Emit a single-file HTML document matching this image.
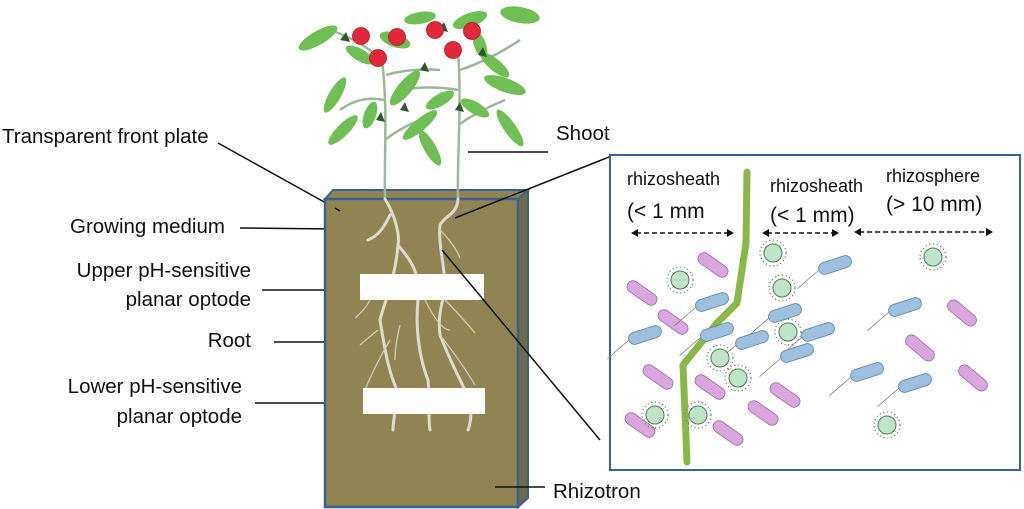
<!DOCTYPE html>
<html><head><meta charset="utf-8"><style>html,body{margin:0;padding:0;background:#fff}svg{display:block}</style></head><body>
<svg width="1024" height="509" viewBox="0 0 1024 509" xmlns="http://www.w3.org/2000/svg" font-family="Liberation Sans, sans-serif">
<defs>
<g id="pk"><rect x="-17" y="-6" width="34" height="12" rx="6" fill="#d9a6de" stroke="#9a6aa6" stroke-width="0.8"/></g>
<g id="bl"><path d="M-17 0 q-10 4 -26 11" fill="none" stroke="#777" stroke-width="0.8"/><rect x="-17" y="-6" width="34" height="12" rx="6" fill="#9cc0de" stroke="#5f86a8" stroke-width="0.8"/></g>
<g id="gc"><circle r="13" fill="none" stroke="#777" stroke-width="1.2" stroke-dasharray="1.2 2.6"/><circle r="9" fill="#bfe4c8" stroke="#4f7a58" stroke-width="1"/></g>
</defs>
<g font-size="20.5" fill="#111">
<text x="2" y="143">Transparent front plate</text>
<text x="70" y="233">Growing medium</text>
<text x="251" y="277" text-anchor="end">Upper pH-sensitive</text>
<text x="251" y="306" text-anchor="end">planar optode</text>
<text x="251" y="347" text-anchor="end">Root</text>
<text x="242" y="393" text-anchor="end">Lower pH-sensitive</text>
<text x="242" y="423" text-anchor="end">planar optode</text>
<text x="556" y="140">Shoot</text>
<text x="553" y="498">Rhizotron</text>
</g>
<g stroke="#111" stroke-width="1.5" fill="none">
<line x1="218" y1="143" x2="335" y2="208"/>
<line x1="240" y1="228" x2="333" y2="229"/>
<line x1="262" y1="290" x2="358" y2="290"/>
<line x1="274" y1="342" x2="370" y2="342"/>
<line x1="255" y1="403" x2="360" y2="403"/>
<line x1="468" y1="152" x2="548" y2="152"/>
</g>
<polygon points="325,199 333,190 528,190 518,199" fill="#8f8452" stroke="#3a6090" stroke-width="2"/>
<polygon points="518,199 528,190 528,498 518,507" fill="#6e6a45" stroke="#3a6090" stroke-width="2"/>
<rect x="325" y="199" width="193" height="308" fill="#8f8452" stroke="#3a6090" stroke-width="2.5"/>
<line x1="495" y1="487" x2="545" y2="487" stroke="#111" stroke-width="1.5"/>
<line x1="335" y1="208" x2="340" y2="211" stroke="#111" stroke-width="1.5"/>
<g fill="none" stroke="#9cb89a" stroke-width="2.5">
<path d="M385 199 C384 150 388 110 382 60"/>
<path d="M458 199 C457 150 462 110 458 50"/>
<path d="M385 140 Q400 128 420 120 M458 125 Q480 110 505 100 M384 100 Q360 95 340 110 M458 90 Q430 85 400 90 M386 75 Q410 68 440 70 M460 70 Q490 60 520 40 M382 60 Q360 40 330 30"/>
</g>
<g fill="#6fbf55">
<ellipse cx="318" cy="38" rx="22" ry="7" transform="rotate(-30 318 38)"/>
<ellipse cx="343" cy="130" rx="20" ry="6" transform="rotate(-45 343 130)"/>
<ellipse cx="335" cy="95" rx="20" ry="6" transform="rotate(-60 335 95)"/>
<ellipse cx="405" cy="88" rx="22" ry="7" transform="rotate(-50 405 88)"/>
<ellipse cx="420" cy="125" rx="22" ry="6" transform="rotate(-40 420 125)"/>
<ellipse cx="430" cy="148" rx="20" ry="6" transform="rotate(60 430 148)"/>
<ellipse cx="510" cy="128" rx="22" ry="6" transform="rotate(55 510 128)"/>
<ellipse cx="505" cy="85" rx="22" ry="7" transform="rotate(20 505 85)"/>
<ellipse cx="520" cy="15" rx="20" ry="8" transform="rotate(10 520 15)"/>
<ellipse cx="495" cy="65" rx="18" ry="6" transform="rotate(40 495 65)"/>
<ellipse cx="470" cy="20" rx="18" ry="7" transform="rotate(-20 470 20)"/>
<ellipse cx="420" cy="18" rx="16" ry="6" transform="rotate(-10 420 18)"/>
<ellipse cx="360" cy="55" rx="16" ry="6" transform="rotate(30 360 55)"/>
<ellipse cx="440" cy="100" rx="16" ry="6" transform="rotate(-30 440 100)"/>
<ellipse cx="475" cy="108" rx="16" ry="6" transform="rotate(30 475 108)"/>
<ellipse cx="370" cy="115" rx="14" ry="6" transform="rotate(-70 370 115)"/>
<ellipse cx="395" cy="40" rx="16" ry="7" transform="rotate(20 395 40)"/>
<ellipse cx="480" cy="45" rx="14" ry="6" transform="rotate(70 480 45)"/>
</g>
<g fill="#2e5a2a">
<path d="M340 40 l6 -8 l4 10z M438 30 l6 -8 l4 10z M400 110 l5 -8 l4 10z M376 120 l5 -8 l4 10z M455 110 l5 -8 l4 10z M478 55 l5 -8 l4 10z M420 70 l5 -8 l4 10z"/>
</g>
<g fill="#e0283a" stroke="#b01828" stroke-width="0.8">
<circle cx="361" cy="36" r="8.5"/><circle cx="397" cy="37" r="8.5"/><circle cx="378" cy="58" r="8.5"/>
<circle cx="435" cy="30" r="8.5"/><circle cx="472" cy="31" r="8.5"/><circle cx="453" cy="50" r="8.5"/>
</g>
<g fill="none" stroke="#dcdcd0" stroke-width="3" stroke-linecap="round">
<path d="M385 199 C395 215 400 235 398 245 C410 260 420 270 418 300 C415 330 420 360 428 380 C430 400 428 420 430 430"/>
<path d="M390 215 C385 225 380 235 368 240"/>
<path d="M398 245 C395 280 385 300 380 320 C385 350 388 370 397 390 C396 410 393 420 393 430"/>
<path d="M458 199 C457 215 445 215 440 225 C438 245 445 265 445 290 C440 310 438 320 440 335 C450 360 460 380 470 400 C472 415 470 425 468 430"/>
</g>
<g fill="none" stroke="#d0ccb8" stroke-width="1.3">
<path d="M440 230 Q455 245 460 258 M370 300 Q365 310 355 318 M378 330 Q368 338 360 345 M400 325 Q395 345 395 360 M425 300 Q440 330 450 330 M445 300 Q460 315 475 333 M440 335 Q460 360 475 385 M390 340 Q375 365 365 390"/>
</g>
<rect x="360" y="274" width="124" height="26" fill="#fff"/>
<rect x="363" y="388" width="122" height="26" fill="#fff"/>
<g stroke="#111" stroke-width="1.5">
<line x1="609" y1="157" x2="455" y2="218"/>
<line x1="600" y1="440" x2="442" y2="250"/>
</g>
<rect x="610" y="155" width="410" height="315" fill="#fff" stroke="#3c6292" stroke-width="2"/>
<g font-size="18" fill="#111">
<text x="627" y="185">rhizosheath</text>
<text x="627" y="218" font-size="21">(&lt; 1 mm</text>
<text x="770" y="192">rhizosheath</text>
<text x="770" y="222" font-size="21">(&lt; 1 mm)</text>
<text x="886" y="182">rhizosphere</text>
<text x="886" y="211" font-size="21">(&gt; 10 mm)</text>
</g>
<g stroke="#111" stroke-width="1.6" stroke-dasharray="5 3">
<line x1="636" y1="233" x2="729" y2="233"/>
<line x1="767" y1="233" x2="834" y2="233"/>
<line x1="859" y1="232" x2="988" y2="232"/>
</g>
<g fill="#111">
<path d="M631 233 l7 -4 v8z M734 233 l-7 -4 v8z M762 233 l7 -4 v8z M839 233 l-7 -4 v8z M854 232 l7 -4 v8z M993 232 l-7 -4 v8z"/>
</g>
<path d="M747 172 L746 243 L737 303 L717 323 L683 365 L687 462" fill="none" stroke="#8ab848" stroke-width="7" stroke-linecap="round" stroke-linejoin="round"/>
<g>
<use href="#pk" transform="translate(713,265) rotate(35)"/>
<use href="#pk" transform="translate(642,293) rotate(35)"/>
<use href="#pk" transform="translate(673,322) rotate(35)"/>
<use href="#pk" transform="translate(658,377) rotate(35)"/>
<use href="#pk" transform="translate(710,387) rotate(35)"/>
<use href="#pk" transform="translate(785,395) rotate(35)"/>
<use href="#pk" transform="translate(763,413) rotate(35)"/>
<use href="#pk" transform="translate(640,425) rotate(35)"/>
<use href="#pk" transform="translate(728,433) rotate(35)"/>
<use href="#pk" transform="translate(962,313) rotate(40)"/>
<use href="#pk" transform="translate(920,348) rotate(40)"/>
<use href="#pk" transform="translate(973,378) rotate(40)"/>
<use href="#bl" transform="translate(835,265) rotate(-18)"/>
<use href="#bl" transform="translate(712,302) rotate(-18)"/>
<use href="#bl" transform="translate(785,313) rotate(-18)"/>
<use href="#bl" transform="translate(645,335) rotate(-18)"/>
<use href="#bl" transform="translate(717,332) rotate(-18)"/>
<use href="#bl" transform="translate(752,340) rotate(-18)"/>
<use href="#bl" transform="translate(818,332) rotate(-18)"/>
<use href="#bl" transform="translate(797,353) rotate(-18)"/>
<use href="#bl" transform="translate(905,307) rotate(-18)"/>
<use href="#bl" transform="translate(867,372) rotate(-18)"/>
<use href="#bl" transform="translate(915,383) rotate(-18)"/>
<use href="#gc" transform="translate(773,253)"/>
<use href="#gc" transform="translate(680,280)"/>
<use href="#gc" transform="translate(782,288)"/>
<use href="#gc" transform="translate(933,257)"/>
<use href="#gc" transform="translate(788,332)"/>
<use href="#gc" transform="translate(720,358)"/>
<use href="#gc" transform="translate(738,378)"/>
<use href="#gc" transform="translate(655,415)"/>
<use href="#gc" transform="translate(698,415)"/>
<use href="#gc" transform="translate(887,425)"/>
</g>
</svg>
</body></html>
